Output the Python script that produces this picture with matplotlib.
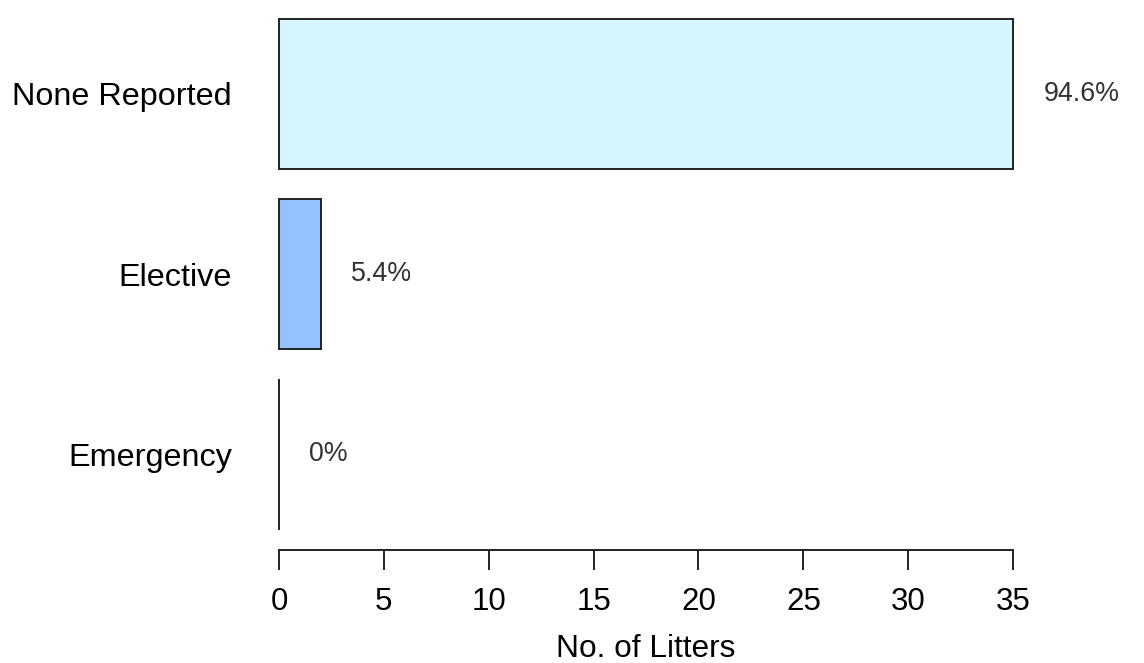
import matplotlib.pyplot as plt

plt.rcParams['font.family'] = ['Liberation Sans', 'DejaVu Sans']

categories = ['Emergency', 'Elective', 'None Reported']
litters = [0, 2, 35]
pct_labels = ['0%', '5.4%', '94.6%']
colors = ['#C9D9FF', '#93C2FF', '#D6F6FF']

# R barplot style positions (width 1, space 0.2)
ypos = [1.2, 2.4, 3.6]

fig = plt.figure(figsize=(11.44, 6.63), dpi=100)
ax = fig.add_axes([0.2182, 0.1704, 0.6930, 0.8324])

ax.barh(ypos, litters, height=1.0, color=colors, edgecolor='#222222', linewidth=1.4)

for y, v, lab in zip(ypos, litters, pct_labels):
    ax.text(v + 1.45, y, lab, ha='left', va='center', fontsize=19.3,
            color='#333333', clip_on=False)

ax.set_xlim(-1.4, 36.4)
ax.set_ylim(0.564, 4.236)

ax.set_xticks(range(0, 36, 5))
ax.set_yticks(ypos)
ax.set_yticklabels(categories)

for s in ['left', 'top', 'right']:
    ax.spines[s].set_visible(False)
ax.spines['bottom'].set_bounds(0, 35)
ax.spines['bottom'].set_linewidth(1.4)
ax.spines['bottom'].set_color('#222222')

ax.tick_params(axis='x', length=14.4, width=1.4, color='#222222', labelsize=22.5, pad=12)
ax.tick_params(axis='y', length=0, labelsize=23.3, pad=12.7)

ax.set_xlabel('No. of Litters', fontsize=22.8, labelpad=12.5)

fig.savefig('out.png', dpi=100)
